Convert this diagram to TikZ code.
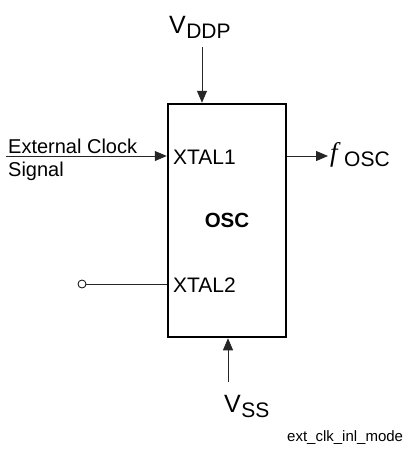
\documentclass[tikz,border=0pt]{standalone}
\usepackage{fontspec}
\setmainfont{Liberation Sans}
\newfontfamily\serifit{Liberation Serif}
\usetikzlibrary{arrows.meta}
\begin{document}
\begin{tikzpicture}[x=1pt,y=-1pt,
 conn/.style={line width=0.8pt, draw=black!85},
 arr/.style={conn,-{Triangle[length=12pt,width=10pt]}},
 lbl/.style={inner sep=0pt, anchor=base west},
 big/.style={font=\fontsize{25}{28}\selectfont},
 mid/.style={font=\fontsize{21}{24}\selectfont},
 box/.style={draw, line width=2.5pt, minimum width=118pt, minimum height=233pt, inner sep=0pt}]
\useasboundingbox (0,0) rectangle (416,456);
\fill[white] (0,0) rectangle (416,456);
\node[box, font=\fontsize{20.5}{24}\selectfont\bfseries] (osc) at (227,220.5) {OSC};
% labels
\node[lbl, big] (vddpV) at (169,33) {V};
\node[lbl, mid] (vddpS) at (vddpV.base east) [yshift=-5pt] {DDP};
\node[lbl, big] (vssV) at (224,412) {V};
\node[lbl, mid] (vssS) at (vssV.base east) [yshift=-5pt] {SS};
\node[lbl, mid] (x1) at (173,164) {XTAL1};
\node[lbl, mid] (x2) at (173,292) {XTAL2};
\node[lbl, font=\fontsize{20}{22}\selectfont] (ext1) at (8,153) {External Clock};
\node[lbl, font=\fontsize{20}{22}\selectfont] (ext2) at (8,176) {Signal};
\node[lbl, font=\fontsize{27}{28}\serifit\itshape] (fo) at (330,161) {f};
\node[lbl, mid] (fS) at (344,166) {OSC};
\node[lbl, font=\fontsize{15}{18}\selectfont] (cap) at (287,441) {ext\_clk\_inl\_mode};
% connector ends
\coordinate (vddpin) at (202,47);
\coordinate (vssin) at (228,382);
\coordinate (extin) at (6,156);
\coordinate (fout) at (328,156);
\node[circle, draw, line width=0.8pt, minimum size=8pt, inner sep=0pt] (x2pin) at (82,284) {};
% connectors
\draw[arr] (vddpin) -- (vddpin |- osc.north);
\draw[arr] (vssin) -- (vssin |- osc.south);
\draw[arr] (extin) -- (extin -| osc.west);
\draw[arr] (fout -| osc.east) -- (fout);
\draw[conn] (x2pin.east) -- (x2pin -| osc.west);
\end{tikzpicture}
\end{document}
